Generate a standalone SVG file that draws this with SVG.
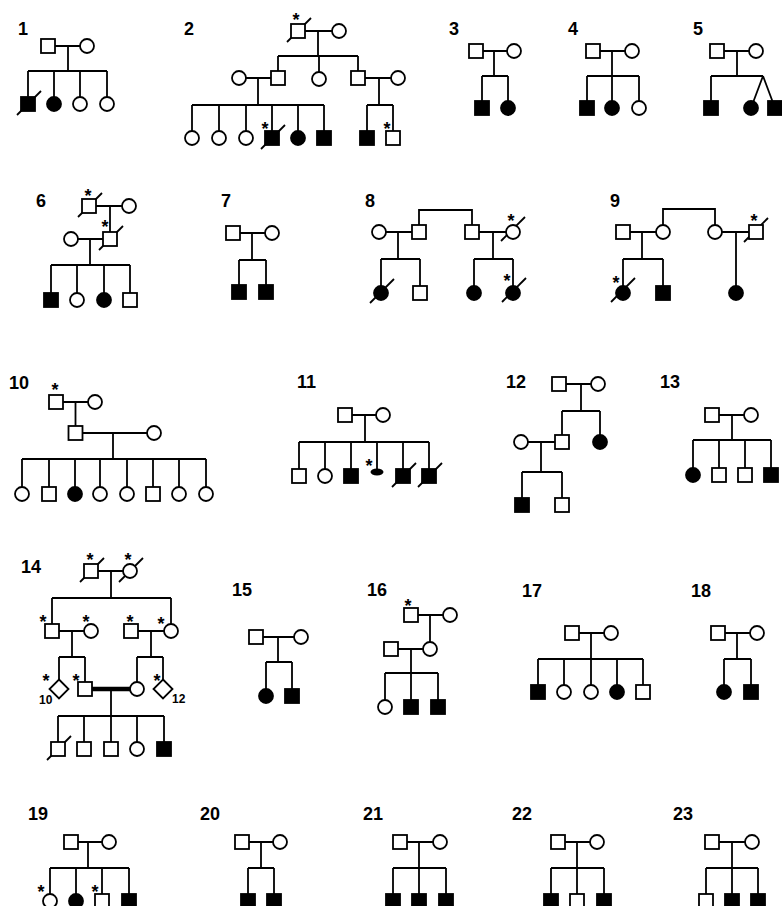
<svg xmlns="http://www.w3.org/2000/svg" xmlns:xlink="http://www.w3.org/1999/xlink" width="782" height="906" viewBox="0 0 782 906">
<style>
.c{stroke:#000;stroke-width:1.8;fill:none}
.n{stroke:#000;stroke-width:1.8}
.o{fill:#fff}
.f{fill:#000}
.d{stroke:#000;stroke-width:1.8;fill:none}
.t{font-family:"Liberation Sans",Arial,sans-serif;font-weight:bold;font-size:18px;fill:#000}
.a{font-family:"Liberation Sans",Arial,sans-serif;font-weight:bold;font-size:18px;fill:#000;text-anchor:middle}
.s{font-family:"Liberation Sans",Arial,sans-serif;font-weight:bold;font-size:12px;fill:#000}
</style>
<defs>
<rect id="S" x="-7" y="-7" width="14" height="14"/>
<circle id="C" r="7"/>
<path id="D" d="M-11,11L13,-13"/>
<path id="Q" d="M0,-9.5L9.5,0L0,9.5L-9.5,0Z"/>
</defs>
<rect width="782" height="906" fill="#fff"/>
<g id="labels">
<text class="t" x="18" y="35">1</text>
<text class="t" x="184" y="35">2</text>
<text class="t" x="449" y="35">3</text>
<text class="t" x="568" y="35">4</text>
<text class="t" x="693" y="35">5</text>
<text class="t" x="36" y="207">6</text>
<text class="t" x="221" y="207">7</text>
<text class="t" x="365" y="207">8</text>
<text class="t" x="610" y="207">9</text>
<text class="t" x="9" y="389">10</text>
<text class="t" x="297" y="388">11</text>
<text class="t" x="506" y="388">12</text>
<text class="t" x="660" y="388">13</text>
<text class="t" x="21" y="573">14</text>
<text class="t" x="232" y="596">15</text>
<text class="t" x="367" y="596">16</text>
<text class="t" x="522" y="597">17</text>
<text class="t" x="691" y="597">18</text>
<text class="t" x="28" y="820">19</text>
<text class="t" x="200" y="820">20</text>
<text class="t" x="363" y="820">21</text>
<text class="t" x="512" y="820">22</text>
<text class="t" x="673" y="820">23</text>
</g>
<g id="connectors" class="c">
<path d="M48,46H87M68,46V71M28,71H107M28,71V104M54,71V104M80,71V104M107,71V104"/>
<path d="M298,31H339M318,31V56M278,56H358M278,56V78M319,56V79M358,56V78M239,78H278M258,78V105M192,105H324M192,105V138M219,105V138M246,105V138M272,105V138M298,105V138M324,105V138M358,78H398M379,78V105M367,105H393M367,105V138M393,105V138"/>
<path d="M476,51H514M494,51V76M482,76H508M482,76V108M508,76V108"/>
<path d="M593,51H632M612,51V108M587,76H639M587,76V108M639,76V108"/>
<path d="M717,51H756M737,51V76M711,76H763M711,76V108M763,76L751,108M763,76L775,108"/>
<path d="M89,206H129M110,206V239M71,239H110M90,239V265M51,265H130M51,265V300M77,265V300M104,265V300M130,265V300"/>
<path d="M233,233H272M252,233V260M239,260H266M239,260V292M266,260V292"/>
<path d="M419,232V210H472V232M379,232H419M398,232V259M381,259H420M381,259V293M420,259V293M472,232H513M493,232V259M474,259H513M474,259V293M513,259V293"/>
<path d="M663,232V209H715V232M623,232H663M642,232V259M623,259H663M623,259V293M663,259V293M715,232H756M736,232V293"/>
<path d="M56,402H95M75.5,402V433M75.5,433H154M113,433V459M22,459H206M22,459V494M49,459V494M75,459V494M100,459V494M127,459V494M153,459V494M179,459V494M206,459V494"/>
<path d="M345,415H383M365,415V442M299,442H429M299,442V476M325,442V476M351,442V476M377,442V470M403,442V476M429,442V476"/>
<path d="M559,384H598M581,384V411M562,411H600M562,411V442M600,411V442M521,442H562M541,442V472M522,472H562M522,472V505M562,472V505"/>
<path d="M712,415H751M732,415V440M693,440H771M693,440V475M719,440V475M745,440V475M771,440V475"/>
<path d="M91,571H130M111,571V598M52,598H171M52,598V631M171,598V631M52,631H91M72,631V657M59,657H85M59,657V689M85,657V689M131,631H171M151,631V657M137,657H163M137,657V689M163,657V689M111,689V716M58,716H164M58,716V749M84,716V749M111,716V749M137,716V749M164,716V749"/>
<path d="M85,689H137" stroke-width="4.5"/>
<path d="M256,637H301M278,637V662M266,662H292M266,662V696M292,662V696"/>
<path d="M411,615H450M430,615V649M391,649H430M411,649V707M385,673H438M385,673V707M438,673V707"/>
<path d="M572,633H611M591,633V692M538,659H643M538,659V692M564,659V692M617,659V692M643,659V692"/>
<path d="M718,633H757M737,633V659M724,659H751M724,659V692M751,659V692"/>
<path d="M71,842H109M88,842V868M50,868H129M50,868V901M76,868V901M102,868V901M129,868V901"/>
<path d="M242,842H280M261,842V868M248,868H274M248,868V901M274,868V901"/>
<path d="M400,842H440M419,842V901M393,868H446M393,868V901M446,868V901"/>
<path d="M558,842H597M577,842V901M551,868H604M551,868V901M604,868V901"/>
<path d="M712,842H752M732,842V901M706,868H758M706,868V901M758,868V901"/>
</g>
<g id="p1">
<g id="p1-1"><use href="#S" x="48" y="46" class="n o"/></g>
<g id="p1-2"><use href="#C" x="87" y="46" class="n o"/></g>
<g id="p1-3"><use href="#D" x="28" y="104" class="d"/><use href="#S" x="28" y="104" class="n f"/></g>
<g id="p1-4"><use href="#C" x="54" y="104" class="n f"/></g>
<g id="p1-5"><use href="#C" x="80" y="104" class="n o"/></g>
<g id="p1-6"><use href="#C" x="107" y="104" class="n o"/></g>
</g>
<g id="p2">
<g id="p2-1"><use href="#D" x="298" y="31" class="d"/><use href="#S" x="298" y="31" class="n o"/><text class="a" x="296" y="26">*</text></g>
<g id="p2-2"><use href="#C" x="339" y="31" class="n o"/></g>
<g id="p2-3"><use href="#C" x="239" y="78" class="n o"/></g>
<g id="p2-4"><use href="#S" x="278" y="78" class="n o"/></g>
<g id="p2-5"><use href="#C" x="319" y="79" class="n o"/></g>
<g id="p2-6"><use href="#S" x="358" y="78" class="n o"/></g>
<g id="p2-7"><use href="#C" x="398" y="78" class="n o"/></g>
<g id="p2-8"><use href="#C" x="192" y="138" class="n o"/></g>
<g id="p2-9"><use href="#C" x="219" y="138" class="n o"/></g>
<g id="p2-10"><use href="#C" x="246" y="138" class="n o"/></g>
<g id="p2-11"><use href="#D" x="272" y="138" class="d"/><use href="#S" x="272" y="138" class="n f"/><text class="a" x="265" y="135">*</text></g>
<g id="p2-12"><use href="#C" x="298" y="138" class="n f"/></g>
<g id="p2-13"><use href="#S" x="324" y="138" class="n f"/></g>
<g id="p2-14"><use href="#S" x="367" y="138" class="n f"/></g>
<g id="p2-15"><use href="#S" x="393" y="138" class="n o"/><text class="a" x="387" y="135">*</text></g>
</g>
<g id="p3">
<g id="p3-1"><use href="#S" x="476" y="51" class="n o"/></g>
<g id="p3-2"><use href="#C" x="514" y="51" class="n o"/></g>
<g id="p3-3"><use href="#S" x="482" y="108" class="n f"/></g>
<g id="p3-4"><use href="#C" x="508" y="108" class="n f"/></g>
</g>
<g id="p4">
<g id="p4-1"><use href="#S" x="593" y="51" class="n o"/></g>
<g id="p4-2"><use href="#C" x="632" y="51" class="n o"/></g>
<g id="p4-3"><use href="#S" x="587" y="108" class="n f"/></g>
<g id="p4-4"><use href="#C" x="612" y="108" class="n f"/></g>
<g id="p4-5"><use href="#C" x="639" y="108" class="n o"/></g>
</g>
<g id="p5">
<g id="p5-1"><use href="#S" x="717" y="51" class="n o"/></g>
<g id="p5-2"><use href="#C" x="756" y="51" class="n o"/></g>
<g id="p5-3"><use href="#S" x="711" y="108" class="n f"/></g>
<g id="p5-4"><use href="#C" x="751" y="108" class="n f"/></g>
<g id="p5-5"><use href="#S" x="775" y="108" class="n f"/></g>
</g>
<g id="p6">
<g id="p6-1"><use href="#D" x="89" y="206" class="d"/><use href="#S" x="89" y="206" class="n o"/><text class="a" x="88" y="202">*</text></g>
<g id="p6-2"><use href="#C" x="129" y="206" class="n o"/></g>
<g id="p6-3"><use href="#C" x="71" y="239" class="n o"/></g>
<g id="p6-4"><use href="#D" x="110" y="239" class="d"/><use href="#S" x="110" y="239" class="n o"/><text class="a" x="105" y="233">*</text></g>
<g id="p6-5"><use href="#S" x="51" y="300" class="n f"/></g>
<g id="p6-6"><use href="#C" x="77" y="300" class="n o"/></g>
<g id="p6-7"><use href="#C" x="104" y="300" class="n f"/></g>
<g id="p6-8"><use href="#S" x="130" y="300" class="n o"/></g>
</g>
<g id="p7">
<g id="p7-1"><use href="#S" x="233" y="233" class="n o"/></g>
<g id="p7-2"><use href="#C" x="272" y="233" class="n o"/></g>
<g id="p7-3"><use href="#S" x="239" y="292" class="n f"/></g>
<g id="p7-4"><use href="#S" x="266" y="292" class="n f"/></g>
</g>
<g id="p8">
<g id="p8-1"><use href="#C" x="379" y="232" class="n o"/></g>
<g id="p8-2"><use href="#S" x="419" y="232" class="n o"/></g>
<g id="p8-3"><use href="#S" x="472" y="232" class="n o"/></g>
<g id="p8-4"><use href="#D" x="512" y="230" class="d"/><use href="#C" x="513" y="232" class="n o"/><text class="a" x="511" y="227">*</text></g>
<g id="p8-5"><use href="#D" x="381" y="292" class="d"/><use href="#C" x="381" y="293" class="n f"/></g>
<g id="p8-6"><use href="#S" x="420" y="293" class="n o"/></g>
<g id="p8-7"><use href="#C" x="474" y="293" class="n f"/></g>
<g id="p8-8"><use href="#D" x="513" y="291" class="d"/><use href="#C" x="513" y="293" class="n f"/><text class="a" x="507" y="287">*</text></g>
</g>
<g id="p9">
<g id="p9-1"><use href="#S" x="623" y="232" class="n o"/></g>
<g id="p9-2"><use href="#C" x="663" y="232" class="n o"/></g>
<g id="p9-3"><use href="#C" x="715" y="232" class="n o"/></g>
<g id="p9-4"><use href="#D" x="755" y="231" class="d"/><use href="#S" x="756" y="232" class="n o"/><text class="a" x="754" y="227">*</text></g>
<g id="p9-5"><use href="#D" x="622" y="291" class="d"/><use href="#C" x="623" y="293" class="n f"/><text class="a" x="616" y="289">*</text></g>
<g id="p9-6"><use href="#S" x="663" y="293" class="n f"/></g>
<g id="p9-7"><use href="#C" x="736" y="293" class="n f"/></g>
</g>
<g id="p10">
<g id="p10-1"><use href="#S" x="56" y="402" class="n o"/><text class="a" x="55" y="396">*</text></g>
<g id="p10-2"><use href="#C" x="95" y="402" class="n o"/></g>
<g id="p10-3"><use href="#S" x="75.5" y="433" class="n o"/></g>
<g id="p10-4"><use href="#C" x="154" y="433" class="n o"/></g>
<g id="p10-5"><use href="#C" x="22" y="494" class="n o"/></g>
<g id="p10-6"><use href="#S" x="49" y="494" class="n o"/></g>
<g id="p10-7"><use href="#C" x="75" y="494" class="n f"/></g>
<g id="p10-8"><use href="#C" x="100" y="494" class="n o"/></g>
<g id="p10-9"><use href="#C" x="127" y="494" class="n o"/></g>
<g id="p10-10"><use href="#S" x="153" y="494" class="n o"/></g>
<g id="p10-11"><use href="#C" x="179" y="494" class="n o"/></g>
<g id="p10-12"><use href="#C" x="206" y="494" class="n o"/></g>
</g>
<g id="p11">
<g id="p11-1"><use href="#S" x="345" y="415" class="n o"/></g>
<g id="p11-2"><use href="#C" x="383" y="415" class="n o"/></g>
<g id="p11-3"><use href="#S" x="299" y="476" class="n o"/></g>
<g id="p11-4"><use href="#C" x="325" y="476" class="n o"/></g>
<g id="p11-5"><use href="#S" x="351" y="476" class="n f"/></g>
<g id="p11-6"><ellipse cx="377" cy="472" rx="6.5" ry="3.5" class="f"/><text class="a" x="369" y="472">*</text></g>
<g id="p11-7"><use href="#D" x="403" y="476" class="d"/><use href="#S" x="403" y="476" class="n f"/></g>
<g id="p11-8"><use href="#D" x="429" y="476" class="d"/><use href="#S" x="429" y="476" class="n f"/></g>
</g>
<g id="p12">
<g id="p12-1"><use href="#S" x="559" y="384" class="n o"/></g>
<g id="p12-2"><use href="#C" x="598" y="384" class="n o"/></g>
<g id="p12-3"><use href="#C" x="521" y="442" class="n o"/></g>
<g id="p12-4"><use href="#S" x="562" y="442" class="n o"/></g>
<g id="p12-5"><use href="#C" x="600" y="442" class="n f"/></g>
<g id="p12-6"><use href="#S" x="522" y="505" class="n f"/></g>
<g id="p12-7"><use href="#S" x="562" y="505" class="n o"/></g>
</g>
<g id="p13">
<g id="p13-1"><use href="#S" x="712" y="415" class="n o"/></g>
<g id="p13-2"><use href="#C" x="751" y="415" class="n o"/></g>
<g id="p13-3"><use href="#C" x="693" y="475" class="n f"/></g>
<g id="p13-4"><use href="#S" x="719" y="475" class="n o"/></g>
<g id="p13-5"><use href="#S" x="745" y="475" class="n o"/></g>
<g id="p13-6"><use href="#S" x="771" y="475" class="n f"/></g>
</g>
<g id="p14">
<g id="p14-1"><use href="#D" x="91" y="571" class="d"/><use href="#S" x="91" y="571" class="n o"/><text class="a" x="90" y="566">*</text></g>
<g id="p14-2"><use href="#D" x="130" y="571" class="d"/><use href="#C" x="130" y="571" class="n o"/><text class="a" x="128" y="566">*</text></g>
<g id="p14-3"><use href="#S" x="52" y="631" class="n o"/><text class="a" x="43" y="628">*</text></g>
<g id="p14-4"><use href="#C" x="91" y="631" class="n o"/><text class="a" x="86" y="628">*</text></g>
<g id="p14-5"><use href="#S" x="131" y="631" class="n o"/><text class="a" x="130" y="628">*</text></g>
<g id="p14-6"><use href="#C" x="171" y="631" class="n o"/><text class="a" x="161" y="630">*</text></g>
<g id="p14-7"><use href="#Q" x="59" y="689" class="n o"/><text class="a" x="46" y="687">*</text><text class="s" x="39" y="704">10</text></g>
<g id="p14-8"><use href="#S" x="85" y="689" class="n o"/><text class="a" x="76" y="687">*</text></g>
<g id="p14-9"><use href="#C" x="137" y="689" class="n o"/></g>
<g id="p14-10"><use href="#Q" x="163" y="689" class="n o"/><text class="a" x="157" y="687">*</text><text class="s" x="172" y="703">12</text></g>
<g id="p14-11"><use href="#D" x="58" y="749" class="d"/><use href="#S" x="58" y="749" class="n o"/></g>
<g id="p14-12"><use href="#S" x="84" y="749" class="n o"/></g>
<g id="p14-13"><use href="#S" x="111" y="749" class="n o"/></g>
<g id="p14-14"><use href="#C" x="137" y="749" class="n o"/></g>
<g id="p14-15"><use href="#S" x="164" y="749" class="n f"/></g>
</g>
<g id="p15">
<g id="p15-1"><use href="#S" x="256" y="637" class="n o"/></g>
<g id="p15-2"><use href="#C" x="301" y="637" class="n o"/></g>
<g id="p15-3"><use href="#C" x="266" y="696" class="n f"/></g>
<g id="p15-4"><use href="#S" x="292" y="696" class="n f"/></g>
</g>
<g id="p16">
<g id="p16-1"><use href="#S" x="411" y="615" class="n o"/><text class="a" x="408" y="612">*</text></g>
<g id="p16-2"><use href="#C" x="450" y="615" class="n o"/></g>
<g id="p16-3"><use href="#S" x="391" y="649" class="n o"/></g>
<g id="p16-4"><use href="#C" x="430" y="649" class="n o"/></g>
<g id="p16-5"><use href="#C" x="385" y="707" class="n o"/></g>
<g id="p16-6"><use href="#S" x="411" y="707" class="n f"/></g>
<g id="p16-7"><use href="#S" x="438" y="707" class="n f"/></g>
</g>
<g id="p17">
<g id="p17-1"><use href="#S" x="572" y="633" class="n o"/></g>
<g id="p17-2"><use href="#C" x="611" y="633" class="n o"/></g>
<g id="p17-3"><use href="#S" x="538" y="692" class="n f"/></g>
<g id="p17-4"><use href="#C" x="564" y="692" class="n o"/></g>
<g id="p17-5"><use href="#C" x="591" y="692" class="n o"/></g>
<g id="p17-6"><use href="#C" x="617" y="692" class="n f"/></g>
<g id="p17-7"><use href="#S" x="643" y="692" class="n o"/></g>
</g>
<g id="p18">
<g id="p18-1"><use href="#S" x="718" y="633" class="n o"/></g>
<g id="p18-2"><use href="#C" x="757" y="633" class="n o"/></g>
<g id="p18-3"><use href="#C" x="724" y="692" class="n f"/></g>
<g id="p18-4"><use href="#S" x="751" y="692" class="n f"/></g>
</g>
<g id="p19">
<g id="p19-1"><use href="#S" x="71" y="842" class="n o"/></g>
<g id="p19-2"><use href="#C" x="109" y="842" class="n o"/></g>
<g id="p19-3"><use href="#C" x="50" y="901" class="n o"/><text class="a" x="41" y="898">*</text></g>
<g id="p19-4"><use href="#C" x="76" y="901" class="n f"/></g>
<g id="p19-5"><use href="#S" x="102" y="901" class="n o"/><text class="a" x="95" y="898">*</text></g>
<g id="p19-6"><use href="#S" x="129" y="901" class="n f"/></g>
</g>
<g id="p20">
<g id="p20-1"><use href="#S" x="242" y="842" class="n o"/></g>
<g id="p20-2"><use href="#C" x="280" y="842" class="n o"/></g>
<g id="p20-3"><use href="#S" x="248" y="901" class="n f"/></g>
<g id="p20-4"><use href="#S" x="274" y="901" class="n f"/></g>
</g>
<g id="p21">
<g id="p21-1"><use href="#S" x="400" y="842" class="n o"/></g>
<g id="p21-2"><use href="#C" x="440" y="842" class="n o"/></g>
<g id="p21-3"><use href="#S" x="393" y="901" class="n f"/></g>
<g id="p21-4"><use href="#S" x="419" y="901" class="n f"/></g>
<g id="p21-5"><use href="#S" x="446" y="901" class="n f"/></g>
</g>
<g id="p22">
<g id="p22-1"><use href="#S" x="558" y="842" class="n o"/></g>
<g id="p22-2"><use href="#C" x="597" y="842" class="n o"/></g>
<g id="p22-3"><use href="#S" x="551" y="901" class="n f"/></g>
<g id="p22-4"><use href="#S" x="577" y="901" class="n o"/></g>
<g id="p22-5"><use href="#S" x="604" y="901" class="n f"/></g>
</g>
<g id="p23">
<g id="p23-1"><use href="#S" x="712" y="842" class="n o"/></g>
<g id="p23-2"><use href="#C" x="752" y="842" class="n o"/></g>
<g id="p23-3"><use href="#S" x="706" y="901" class="n o"/></g>
<g id="p23-4"><use href="#S" x="732" y="901" class="n f"/></g>
<g id="p23-5"><use href="#S" x="758" y="901" class="n f"/></g>
</g>
</svg>
